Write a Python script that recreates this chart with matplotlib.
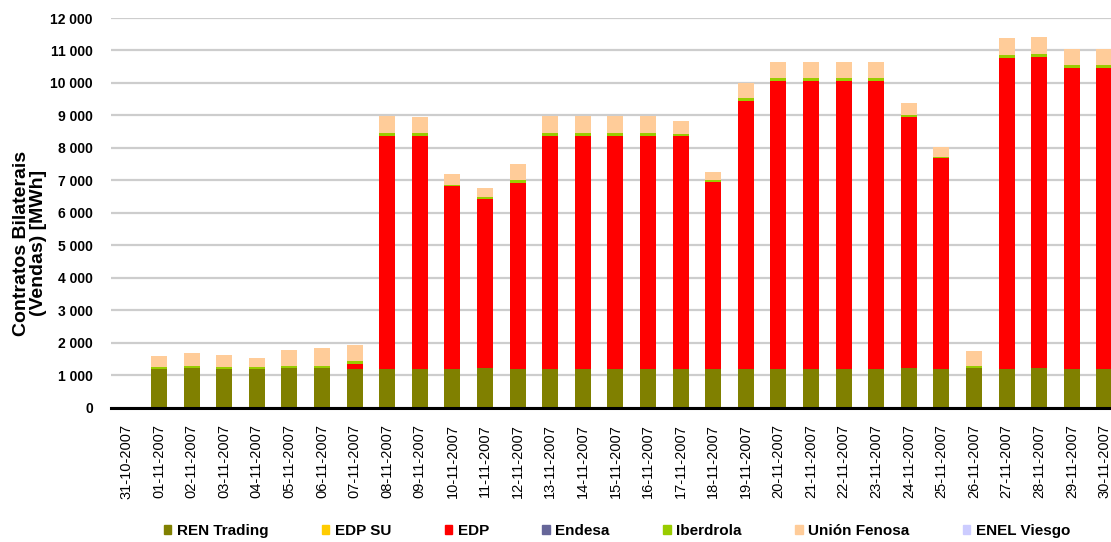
import numpy as np
import matplotlib.pyplot as plt
from matplotlib.patches import Patch
from matplotlib.ticker import FuncFormatter

plt.rcParams['font.family'] = ['Liberation Sans', 'DejaVu Sans']

#dates on the x axis
dates = ['31-10-2007'] + ['%02d-11-2007' % d for d in range(1, 31)]

#MWh sold per agent
ren_trading = [0, 1180, 1210, 1180, 1180, 1210, 1210, 1180, 1180, 1180, 1180, 1210, 1180,
               1180, 1180, 1180, 1180, 1180, 1180, 1180, 1180, 1180, 1180, 1180, 1210, 1180,
               1210, 1180, 1210, 1180, 1180]
edp_su = [0] * 31
edp = [0, 0, 0, 0, 0, 0, 0, 160, 7190, 7190, 5650, 5210, 5740,
       7190, 7190, 7190, 7190, 7200, 5770, 8270, 8870, 8870, 8870, 8870, 7750, 6500,
       0, 9600, 9600, 9270, 9270]
endesa = [0] * 31
iberdrola = [0, 60, 60, 60, 60, 60, 60, 90, 90, 90, 30, 60, 100,
             90, 90, 90, 90, 60, 50, 90, 90, 90, 90, 90, 60, 50,
             60, 90, 90, 90, 90]
union_fenosa = [0, 340, 410, 380, 280, 500, 560, 500, 530, 500, 340, 290, 490,
                530, 530, 530, 530, 400, 260, 450, 500, 500, 500, 500, 370, 300,
                470, 500, 500, 520, 520]
enel_viesgo = [0] * 31

series = [('REN Trading', ren_trading, '#808000'),
          ('EDP SU', edp_su, '#FFCC00'),
          ('EDP', edp, '#FF0000'),
          ('Endesa', endesa, '#666699'),
          ('Iberdrola', iberdrola, '#99CC00'),
          ('Unión Fenosa', union_fenosa, '#FFCC99'),
          ('ENEL Viesgo', enel_viesgo, '#CCCCFF')]

fig = plt.figure(figsize=(11.11, 5.42), dpi=100)
ax = fig.add_axes([111 / 1111, 1 - 407.7 / 542, 1000 / 1111, (407.7 - 18) / 542])

x = np.arange(len(dates))
bottom = np.zeros(len(dates))
for name, vals, col in series:
    vals = np.array(vals, dtype=float)
    ax.bar(x, vals, 0.49, bottom=bottom, color=col, zorder=3)
    bottom += vals

ax.set_xlim(-0.47, 30.2)
ax.set_ylim(0, 12000)
ax.set_yticks(np.arange(0, 12001, 1000))
ax.yaxis.set_major_formatter(FuncFormatter(lambda v, p: '{:,}'.format(int(v)).replace(',', ' ')))
ax.grid(axis='y', color='#CDCDCD', linewidth=1.6, zorder=0)

for s in ['top', 'right', 'left']:
    ax.spines[s].set_visible(False)
ax.spines['bottom'].set_linewidth(2.2)
ax.spines['bottom'].set_zorder(4)

ax.set_xticks(x)
ax.set_xticklabels(dates, rotation=90, fontsize=10.5)
ax.tick_params(axis='x', length=0, pad=12)
ax.tick_params(axis='y', length=0, pad=13, labelsize=10)
for lab in ax.get_yticklabels():
    lab.set_fontweight('bold')

fig.text(30 / 1111, 1 - 243 / 542, 'Contratos Bilaterais\n(Vendas) [MWh]', rotation=90,
         ha='center', va='center', fontsize=14, fontweight='bold', multialignment='center',
         linespacing=1.0)

handles = [Patch(color=col, label=name) for name, vals, col in series]
fig.legend(handles=handles, loc='center', bbox_to_anchor=(617 / 1111, 1 - 531 / 542), ncol=7,
           frameon=False, handlelength=0.5, handleheight=0.5, handletextpad=0.35,
           columnspacing=3.5, prop={'weight': 'bold', 'size': 11})

fig.savefig('out.png', dpi=100)
plt.close()
